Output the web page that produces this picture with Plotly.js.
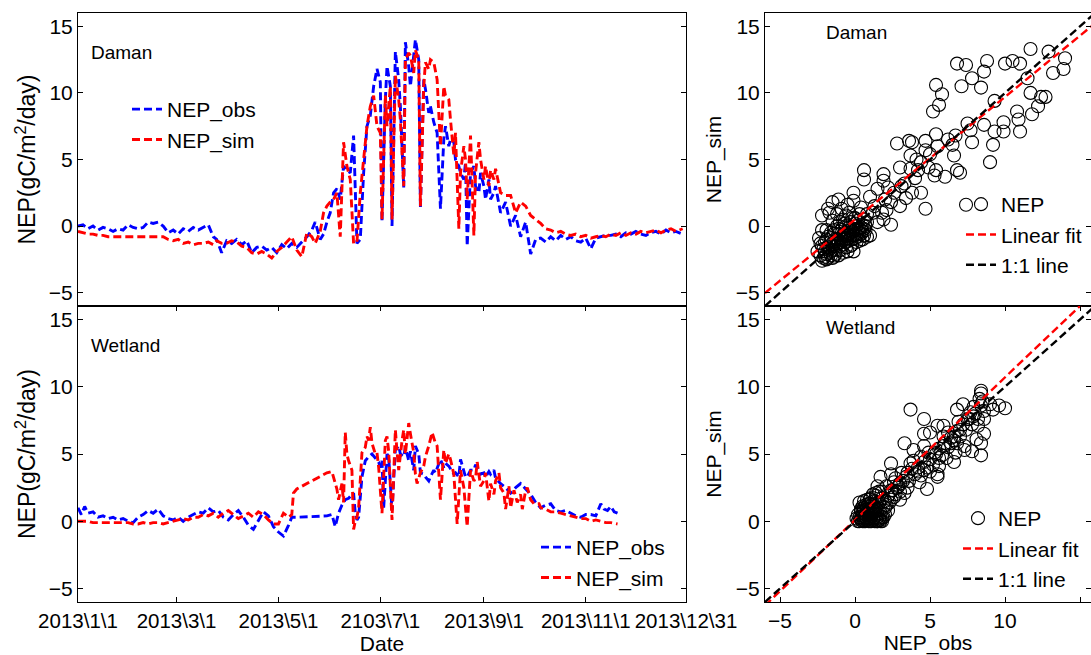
<!DOCTYPE html>
<html>
<head>
<meta charset="utf-8">
<script src="https://cdn.plot.ly/plotly-3.0.1.min.js"></script>
<style>html,body{margin:0;padding:0;background:#fff;}#chart{width:1091px;height:655px;}</style>
</head>
<body>
<div id="chart"></div>
<script>
// ---------- Time axis (day of year 2013) ----------
const dateTickDays = [0, 59, 120, 181, 243, 304, 364];
const dateTickText = ['2013\\1\\1', '2013\\3\\1', '2013\\5\\1', '2103\\7\\1', '2013\\9\\1', '2013\\11\\1', '2013\\12\\31'];

// ---------- Daman time series ----------
const damanDay = [0,3,6,9,12,15,18,21,24,27,30,33,36,39,42,45,48,51,54,57,60,63,66,69,72,75,78,81,83,86,89,92,95,98,101,104,107,110,113,116,119,122,125,128,131,134,137,140,142,145,147,149,151,153,155,157,159,161,163,165,167,169,171,173,175,177,179,181,182,184,185,187,188,190,192,193,195,196,198,199,201,202,204,205,207,208,210,211,213,215,217,219,220,222,223,225,226,228,229,231,232,233,235,237,238,240,241,243,244,246,247,249,250,253,256,259,262,265,268,271,274,277,280,283,286,289,292,295,298,301,304,307,310,313,316,319,322,325,328,331,334,337,340,343,346,349,352,355,358,362];
const damanObs = [0.0,0.1,-0.2,0.0,-0.3,-0.1,-0.2,-0.4,-0.2,-0.3,0.1,-0.1,-0.2,-0.1,0.3,0.2,0.3,0.0,-0.5,-0.3,-0.6,-0.2,-0.4,-0.1,-0.3,-0.1,0.1,-0.8,-1.0,-2.0,-1.1,-1.3,-1.0,-1.4,-1.1,-2.0,-1.6,-1.5,-1.8,-1.6,-2.0,-1.4,-1.7,-1.3,-1.6,-1.2,-0.8,-0.3,0.3,-1.0,-0.6,0.3,1.0,2.5,2.8,2.0,4.5,4.2,4.0,6.8,-1.3,-1.0,4.0,7.5,8.3,10.5,11.8,10.8,0.3,9.5,12.0,10.5,0.0,13.1,11.0,9.0,2.9,13.8,12.0,10.5,12.6,14.0,12.5,1.3,11.0,10.3,8.5,9.0,7.8,7.0,1.3,6.5,7.5,6.0,6.5,6.3,5.0,4.5,4.0,3.5,4.8,-1.5,4.0,4.5,3.0,2.5,4.0,3.0,2.0,3.5,2.0,2.5,3.0,1.0,1.8,0.0,0.8,-0.8,0.3,-2.1,-1.0,-0.9,-1.2,-0.8,-1.1,-0.7,-1.0,-0.8,-1.1,-1.2,-0.9,-1.7,-0.9,-0.8,-0.7,-0.7,-0.6,-0.8,-0.5,-0.6,-0.4,-0.6,-0.7,-0.5,-0.4,-0.6,-0.3,-0.5,-0.4,-0.6];
const damanSim = [-0.4,-0.5,-0.6,-0.6,-0.7,-0.7,-0.8,-0.8,-0.8,-0.8,-0.8,-0.8,-0.8,-0.8,-0.8,-0.8,-0.8,-0.8,-1.0,-1.1,-1.0,-1.3,-1.2,-1.4,-1.3,-1.3,-1.2,-1.4,-1.1,-1.3,-1.3,-1.1,-1.2,-1.5,-1.6,-2.0,-2.1,-1.9,-2.1,-2.4,-1.9,-1.6,-1.2,-0.8,-1.8,-2.3,-0.5,-0.8,-1.3,-0.4,1.0,1.5,1.8,2.0,2.5,-0.8,6.3,4.5,3.5,-1.3,-1.2,2.5,5.0,7.5,9.0,9.8,7.5,7.0,0.5,9.8,7.5,10.5,0.5,11.3,9.5,8.0,3.0,12.5,13.0,12.8,11.5,13.2,12.5,1.5,10.5,12.3,11.8,12.5,12.3,11.0,6.0,10.5,9.8,9.5,8.0,5.3,7.0,-0.2,4.0,6.0,5.0,2.0,6.8,-0.7,4.0,6.3,5.0,3.5,4.5,3.0,4.2,3.5,4.3,2.5,2.3,2.3,1.0,1.8,1.5,0.8,0.5,0.2,-0.2,-0.3,-0.5,-0.4,-0.6,-0.7,-0.6,-0.8,-0.7,-0.9,-0.8,-0.7,-0.8,-0.6,-0.7,-0.5,-0.7,-0.5,-0.6,-0.4,-0.5,-0.4,-0.3,-0.5,-0.3,-0.2,-0.4,-0.2];

// ---------- Wetland time series ----------
const wetObsDay = [0,2,4,6,9,12,15,18,21,24,27,30,33,36,39,42,45,48,51,54,57,60,63,66,69,72,75,78,81,84,87,90,93,96,99,102,105,108,111,114,117,120,123,126,128,131,137,143,149,152,154,156,158,160,162,164,165,166,167,168,170,172,174,176,178,180,181,182,183,185,186,188,190,192,193,195,196,198,199,201,202,204,205,207,208,210,211,213,214,216,217,219,220,222,223,225,226,228,229,231,232,233,235,237,238,240,241,243,244,246,247,249,250,253,256,259,262,265,268,271,274,277,280,283,286,289,292,295,298,301,304,307,310,313,315,317,319,321,323];
const wetObs = [1.0,0.5,1.1,0.6,0.7,0.3,0.4,0.2,0.3,0.1,0.2,0.0,-0.1,0.3,0.5,0.8,0.6,0.9,0.4,0.2,0.1,0.3,0.0,0.3,0.5,0.7,0.6,1.0,0.7,0.8,0.3,0.1,0.5,0.8,0.3,-0.3,-0.6,0.0,0.7,0.4,-0.4,-0.8,-1.1,-0.3,0.3,0.3,0.35,0.35,0.4,0.5,-0.4,0.6,1.2,1.6,1.7,2.0,2.1,0.6,0.1,0.3,3.3,4.5,4.8,5.0,4.7,4.4,4.0,4.5,1.0,5.0,4.8,0.8,5.3,5.6,5.0,4.8,5.5,4.5,5.2,3.8,5.6,5.0,3.6,3.5,3.3,3.0,3.3,3.8,3.6,4.2,4.6,4.0,4.3,4.1,3.9,3.5,3.6,3.3,4.6,3.6,3.3,3.3,3.8,3.8,4.2,3.8,3.5,3.6,3.3,3.7,3.5,3.8,3.2,2.8,2.5,2.1,2.5,2.8,2.4,2.0,1.4,1.0,1.2,1.3,0.8,0.7,0.8,0.6,0.4,0.3,0.5,0.5,0.4,1.3,0.9,0.8,1.1,0.7,0.6];
const wetSimDay = [0,3,6,9,12,15,18,21,24,27,30,33,36,39,42,45,48,51,54,57,60,63,66,69,72,75,78,81,84,87,90,93,96,99,102,105,108,111,114,117,120,123,126,128,129,131,137,143,149,152,153,155,156,158,159,160,161,162,164,165,166,167,168,169,170,172,173,174,175,176,178,179,180,182,183,184,185,186,188,190,191,192,194,195,196,197,198,199,201,202,203,205,207,208,210,212,213,214,215,217,219,220,222,223,225,226,227,229,231,232,233,235,237,238,239,241,243,244,246,247,249,250,252,253,255,256,258,259,261,263,265,266,268,269,271,273,276,277,280,283,286,289,292,295,298,301,304,307,310,313,316,319,323];
const wetSim = [0.0,0.0,0.0,-0.1,-0.1,-0.1,-0.1,-0.1,-0.1,-0.1,-0.1,-0.2,-0.2,-0.1,-0.2,-0.1,-0.1,-0.2,-0.1,0.0,0.1,0.2,0.1,0.3,0.3,0.5,0.4,0.6,0.3,0.6,0.8,0.5,0.2,0.4,0.6,0.3,0.7,0.5,0.1,-0.2,-0.2,0.6,0.3,0.5,2.1,2.4,2.8,3.2,3.6,3.7,3.2,2.4,1.6,2.8,1.4,6.6,5.0,4.5,3.8,-0.6,0.0,0.3,1.0,3.5,5.1,5.5,6.3,6.0,7.0,5.8,5.0,5.1,4.0,0.6,3.0,6.0,6.3,5.2,0.1,6.8,5.2,3.8,6.0,6.8,5.0,6.3,7.3,6.5,5.1,3.5,2.8,3.6,4.1,4.8,5.6,6.6,6.2,5.8,5.6,1.6,5.3,4.3,5.0,4.6,3.5,1.5,-0.2,3.8,2.5,1.0,-0.4,3.8,3.0,3.2,4.4,2.6,3.0,3.6,1.5,2.8,2.0,3.0,3.6,2.5,2.1,0.9,2.6,1.0,2.3,1.4,2.0,0.9,2.3,2.5,1.6,1.3,1.3,1.0,0.9,0.7,0.7,0.6,0.5,0.4,0.3,0.2,0.2,0.0,0.1,0.0,-0.1,-0.1,-0.2];

// ---------- Daman scatter (NEP_obs vs NEP_sim) ----------
const damanScObs = [11.7,12.9,14.0,13.9,13.2,10.0,10.5,11.0,8.8,6.8,7.4,8.6,7.8,8.4,7.1,5.4,5.8,5.6,5.2,11.5,11.7,12.2,12.4,12.7,11.8,10.8,10.9,11.0,9.3,9.9,9.9,9.3,9.2,9.0,8.6,7.5,7.8,7.7,6.7,6.6,6.0,6.8,7.0,5.4,5.5,5.4,5.3,4.9,4.7,4.7,4.4,3.8,3.7,3.6,2.8,3.7,3.0,3.3,3.8,4.4,4.7,0.6,0.6,1.9,1.9,1.5,2.6,2.4,2.4,3.0,1.8,1.0,1.2,1.9,-0.1,-0.1,-1.1,-1.5,-1.8,-2.2,1.0,7.4,-2.2,2.0,2.2,3.1,4.1,4.2,5.0,6.2,6.5,4.0,3.4,1.3,0.8,1.5,2.1,0.4,
  -2.3,-2.1,-2.0,-1.9,-1.8,-1.7,-1.6,-1.5,-1.4,-1.3,-1.2,-1.1,-1.0,-0.9,-0.8,-0.7,-0.6,-0.5,-0.4,-0.3,-0.2,-0.1,0.0,0.1,0.2,0.3,0.4,0.5,0.6,0.8,-2.2,-2.0,-1.8,-1.6,-1.4,-1.2,-1.0,-0.8,-0.6,-0.4,-0.2,0.0,0.2,-2.4,-1.9,-1.5,-1.2,-0.9,-1.7,-0.5,0.3,0.6,-0.3,-0.6,-1.0,-1.3,0.1,0.5,-0.1,-1.5,-0.8,-1.1,-0.4,-0.7,0.7,-2.5,-2.3,-1.9,-1.6,
  -2.2,-2.0,-1.8,-1.7,-1.5,-1.3,-1.2,-1.0,-0.9,-0.8,-0.7,-0.6,-0.5,-0.4,-0.3,-0.2,-0.1,0.0,0.1,0.2,0.3,0.4,0.5,0.6,0.7,0.8,-1.9,-1.6,-1.4,-1.1,-0.9,-0.6,-0.3,0.0,-2.1,-1.4,-1.1,-0.5,-0.2,0.3];
const damanScSim = [13.3,13.1,12.6,11.8,11.5,12.2,12.4,12.2,12.4,12.2,12.1,11.6,11.1,10.4,10.5,10.6,9.9,9.1,8.6,11.1,10.0,9.0,9.7,9.7,8.4,8.6,8.0,7.1,9.4,7.8,7.1,7.1,6.1,4.8,7.6,7.7,6.3,7.2,6.8,5.3,3.7,4.2,4.0,6.9,6.0,4.2,3.8,4.4,6.4,5.7,4.8,6.3,5.3,6.4,6.2,4.3,4.4,3.2,2.5,2.5,1.3,4.2,3.5,3.9,3.4,2.8,2.5,1.8,0.1,1.5,1.0,2.2,1.0,0.5,2.5,1.9,2.0,1.8,1.3,0.8,-0.7,1.6,-0.3,2.0,2.9,3.0,5.0,4.2,5.4,6.5,6.1,3.6,2.1,1.5,0.9,0.3,1.2,1.4,
  -2.2,-2.4,-1.9,-2.1,-1.6,-2.0,-1.4,-1.8,-1.2,-1.5,-1.0,-1.3,-0.9,-1.2,-0.7,-1.0,-0.6,-0.9,-0.5,-0.8,-0.4,-0.7,-0.3,-0.6,-0.2,-0.5,-0.1,-0.4,-0.2,-0.8,-1.5,-1.2,-0.8,-0.5,-0.3,0.0,0.3,0.5,0.8,1.0,0.6,0.2,0.4,-0.9,-0.3,0.4,0.9,1.3,1.0,1.6,0.9,0.5,-1.5,-1.6,-1.8,-2.1,-1.2,-1.0,-1.9,-2.4,-2.0,-0.6,-0.1,0.2,0.0,-1.9,-1.3,-2.5,-2.2,
  -2.6,-2.3,-2.4,-1.7,-1.5,-1.8,-1.3,-1.5,-0.9,-1.4,-0.5,-1.2,-0.7,-1.1,-0.3,-1.0,-0.2,-0.9,0.0,-0.8,-0.2,-0.6,0.1,-0.7,-0.3,0.3,-1.0,-0.9,-0.6,-0.2,-0.3,0.0,0.3,0.6,-1.7,-2.3,-2.2,-1.9,-1.4,-1.1];

// ---------- Wetland scatter ----------
const wetScObs = [3.7,4.6,3.3,8.4,8.4,10.0,9.6,9.2,7.2,6.8,7.7,8.6,8.2,8.6,8.4,8.4,7.8,7.3,6.8,6.2,5.9,5.5,5.0,4.6,3.9,4.6,5.3,5.6,5.6,6.6,5.0,4.6,4.8,5.5,4.2,3.7,3.5,3.0,2.4,1.7,2.4,3.3,3.0,1.5,1.4,1.0,0.8,0.4,1.7,1.5,0.6,6.4,6.6,7.0,7.5,7.9,4.4,5.9,2.4,
  2.6,2.9,3.2,3.4,3.6,3.8,4.0,4.2,4.4,4.6,4.8,5.0,5.2,5.4,5.6,5.8,6.0,6.2,6.4,6.6,6.8,7.0,7.2,7.4,7.6,7.8,8.0,8.2,8.4,8.6,8.3,8.5,9.0,7.9,6.9,5.9,4.9,3.9,3.1,2.7,5.5,6.1,6.7,7.3,8.1,4.3,3.5,
  0.2,0.4,0.6,0.8,1.0,1.2,1.4,1.6,1.8,0.3,0.5,0.7,0.9,1.1,1.3,1.5,0.4,0.6,0.8,1.0,1.2,1.4,0.5,0.7,0.9,1.1,1.3,1.6,1.8,2.0,0.3,0.6,1.0,1.4,1.8,2.2,2.5,0.1,1.7,2.0,2.3,1.9,2.6,2.8,3.0,
  0.3,0.5,0.7,0.9,1.1,1.3,1.5,1.7,0.4,0.6,0.8,1.0,1.2,1.4,1.6,1.8,0.5,0.7,0.9,1.1,1.3,1.5,1.7,0.6,0.8,1.2,1.0,1.4,0.4,0.2,2.1,2.2,1.9,2.4,2.0,0.8,1.2,1.6,2.1,2.7];
const wetScSim = [8.3,7.6,5.8,9.5,9.7,8.4,8.6,8.3,8.7,8.3,8.1,7.6,7.1,6.5,5.8,4.9,5.2,5.3,5.8,6.6,7.1,7.1,6.6,6.5,5.3,5.6,5.1,4.7,4.1,4.4,3.7,3.8,2.4,3.3,3.7,4.3,3.6,2.8,3.5,3.3,2.3,2.1,1.6,2.6,2.1,1.6,1.1,0.8,0.1,0.0,0.1,5.8,6.3,6.8,7.6,7.8,4.8,5.6,4.3,
  2.9,2.6,3.0,3.3,3.0,3.9,3.5,4.0,3.4,4.4,4.0,4.6,4.2,5.0,5.4,4.9,5.8,5.5,6.2,6.0,6.7,6.3,7.2,6.8,7.6,7.2,8.0,7.6,8.6,8.2,9.1,8.9,8.7,8.5,7.4,6.3,5.1,4.5,3.6,3.2,3.5,4.7,5.1,5.6,6.1,2.9,2.5,
  0.0,0.1,0.0,0.1,0.0,0.1,0.0,0.1,0.0,0.3,0.4,0.3,0.5,0.4,0.3,0.5,0.7,0.8,0.7,0.9,0.8,1.0,1.1,1.2,1.3,1.2,1.5,1.4,1.7,1.5,1.4,1.5,1.7,1.9,2.2,1.9,2.3,0.2,0.6,1.0,1.4,0.3,1.8,2.5,2.2,
  0.0,0.0,0.0,0.0,0.0,0.0,0.0,0.0,0.2,0.2,0.2,0.2,0.2,0.2,0.2,0.3,0.6,0.5,0.6,0.6,0.7,0.8,0.9,1.0,0.9,1.1,1.3,1.3,0.9,0.5,1.2,0.8,1.1,1.6,0.5,1.6,2.0,2.2,2.6,2.0];

// ---------- Regression lines (slope, intercept) ----------
const damanFit = {slope: 0.92, intercept: 0.5};
const wetFit = {slope: 1.06, intercept: 0.1};
const oneToOne = {slope: 1.0, intercept: 0.0};

// ---------- Axis ranges ----------
const nepRange = [-6, 16];
const obsRange = [-6, 15.73];
const dayRange = [0, 364];
const nepTicks = [-5, 0, 5, 10, 15];

const FONT = 'Arial, "Liberation Sans", sans-serif';
const BLUE = 'rgb(0,0,255)', RED = 'rgb(255,0,0)';
const dashPat = '8px,4px';

function lineFrom(fit, xr) {
  return {x: [xr[0], xr[1] + 1], y: [fit.slope * xr[0] + fit.intercept, fit.slope * (xr[1] + 1) + fit.intercept]};
}

const LW = 2.9;
const traces = [
  {x: damanDay, y: damanObs, xaxis: 'x', yaxis: 'y', mode: 'lines', name: 'NEP_obs', legend: 'legend',
   line: {color: BLUE, width: LW, dash: dashPat}},
  {x: damanDay, y: damanSim, xaxis: 'x', yaxis: 'y', mode: 'lines', name: 'NEP_sim', legend: 'legend',
   line: {color: RED, width: LW, dash: dashPat}},
  {x: wetObsDay, y: wetObs, xaxis: 'x2', yaxis: 'y2', mode: 'lines', name: 'NEP_obs', legend: 'legend2',
   line: {color: BLUE, width: LW, dash: dashPat}},
  {x: wetSimDay, y: wetSim, xaxis: 'x2', yaxis: 'y2', mode: 'lines', name: 'NEP_sim', legend: 'legend2',
   line: {color: RED, width: LW, dash: dashPat}},
  {x: damanScObs, y: damanScSim, xaxis: 'x3', yaxis: 'y3', mode: 'markers', name: 'NEP', legend: 'legend3',
   marker: {symbol: 'circle-open', size: 13, color: 'black', line: {width: 1.1, color: 'black'}}, cliponaxis: true},
];
const dl = lineFrom(damanFit, obsRange), d11 = lineFrom(oneToOne, obsRange);
traces.push({x: dl.x, y: dl.y, xaxis: 'x3', yaxis: 'y3', mode: 'lines', name: 'Linear fit', legend: 'legend3',
  line: {color: RED, width: 2.4, dash: dashPat}});
traces.push({x: d11.x, y: d11.y, xaxis: 'x3', yaxis: 'y3', mode: 'lines', name: '1:1 line', legend: 'legend3',
  line: {color: 'black', width: 2.4, dash: dashPat}});
traces.push({x: wetScObs, y: wetScSim, xaxis: 'x4', yaxis: 'y4', mode: 'markers', name: 'NEP', legend: 'legend4',
  marker: {symbol: 'circle-open', size: 13, color: 'black', line: {width: 1.1, color: 'black'}}, cliponaxis: true});
const wl = lineFrom(wetFit, obsRange), w11 = lineFrom(oneToOne, obsRange);
traces.push({x: wl.x, y: wl.y, xaxis: 'x4', yaxis: 'y4', mode: 'lines', name: 'Linear fit', legend: 'legend4',
  line: {color: RED, width: 2.4, dash: dashPat}});
traces.push({x: w11.x, y: w11.y, xaxis: 'x4', yaxis: 'y4', mode: 'lines', name: '1:1 line', legend: 'legend4',
  line: {color: 'black', width: 2.4, dash: dashPat}});

const W = 1091, H = 655;
const px = v => v / W, py = v => 1 - v / H;
const leftDom = [px(78), px(686)], rightDom = [px(765), 1];
const topDom = [py(306), py(13)], botDom = [py(602), py(306)];

const base = {showgrid: false, zeroline: false, showline: true, linecolor: 'black', linewidth: 1,
  ticks: 'inside', ticklen: 5, tickwidth: 1, tickcolor: 'black', mirror: 'ticks', tickangle: 0,
  tickfont: {family: FONT, size: 21, color: 'black'}};
const titleFont = {family: FONT, size: 21, color: 'black'};
const yTitleFont = {family: FONT, size: 23, color: 'black'};

const legendBase = {bgcolor: 'rgba(0,0,0,0)', borderwidth: 0, font: {family: FONT, size: 21, color: 'black'},
  xanchor: 'left', yanchor: 'top', tracegroupgap: 0};

const annFont = {family: FONT, size: 19, color: 'black'};
const layout = {
  width: W, height: H, margin: {l: 0, r: 0, t: 0, b: 0}, paper_bgcolor: 'white', plot_bgcolor: 'white',
  font: {family: FONT, color: 'black'}, showlegend: true,
  xaxis: Object.assign({}, base, {domain: leftDom, anchor: 'y', range: dayRange, tickvals: dateTickDays,
    showticklabels: false, ticks: '', mirror: true}),
  yaxis: Object.assign({}, base, {domain: topDom, anchor: 'x', range: nepRange, tickvals: nepTicks,
    title: {text: 'NEP(gC/m<sup>2</sup>/day)', font: yTitleFont, standoff: 6}}),
  xaxis2: Object.assign({}, base, {domain: leftDom, anchor: 'y2', range: dayRange, tickvals: dateTickDays,
    ticktext: dateTickText, tickangle: 0, tickfont: {family: FONT, size: 20.5, color: 'black'},
    title: {text: 'Date', font: titleFont, standoff: 6}}),
  yaxis2: Object.assign({}, base, {domain: botDom, anchor: 'x2', range: nepRange, tickvals: nepTicks,
    title: {text: 'NEP(gC/m<sup>2</sup>/day)', font: yTitleFont, standoff: 6}}),
  xaxis3: Object.assign({}, base, {domain: rightDom, anchor: 'y3', range: obsRange, tickvals: nepTicks,
    showticklabels: false, ticks: '', mirror: true}),
  yaxis3: Object.assign({}, base, {domain: topDom, anchor: 'x3', range: nepRange, tickvals: nepTicks,
    title: {text: 'NEP_sim', font: titleFont, standoff: 8}}),
  xaxis4: Object.assign({}, base, {domain: rightDom, anchor: 'y4', range: obsRange, tickvals: nepTicks,
    title: {text: 'NEP_obs', font: titleFont, standoff: 6}}),
  yaxis4: Object.assign({}, base, {domain: botDom, anchor: 'x4', range: nepRange, tickvals: nepTicks,
    title: {text: 'NEP_sim', font: titleFont, standoff: 8}}),
  legend: Object.assign({}, legendBase, {x: px(127), y: py(89)}),
  legend2: Object.assign({}, legendBase, {x: px(536), y: py(527)}),
  legend3: Object.assign({}, legendBase, {x: px(961), y: py(184)}),
  legend4: Object.assign({}, legendBase, {x: px(958), y: py(498)}),
  annotations: [
    {text: 'Daman', xref: 'paper', yref: 'paper', x: px(89), y: py(52), xanchor: 'left', yanchor: 'middle', showarrow: false, font: annFont},
    {text: 'Wetland', xref: 'paper', yref: 'paper', x: px(89), y: py(346), xanchor: 'left', yanchor: 'middle', showarrow: false, font: annFont},
    {text: 'Daman', xref: 'paper', yref: 'paper', x: px(824), y: py(33), xanchor: 'left', yanchor: 'middle', showarrow: false, font: annFont},
    {text: 'Wetland', xref: 'paper', yref: 'paper', x: px(824), y: py(327), xanchor: 'left', yanchor: 'middle', showarrow: false, font: annFont}
  ]
};

Plotly.newPlot('chart', traces, layout, {staticPlot: true, displayModeBar: false});
</script>
</body>
</html>
